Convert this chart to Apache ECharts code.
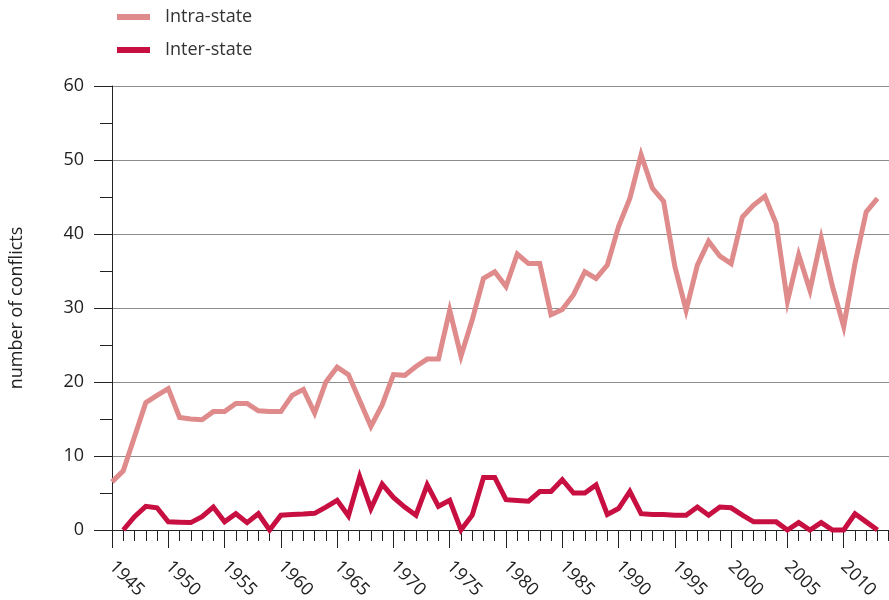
<!DOCTYPE html>
<html>
<head>
<meta charset="utf-8">
<script src="https://cdn.jsdelivr.net/npm/echarts@6/dist/echarts.min.js"></script>
<style>
html,body{margin:0;padding:0;background:#fff;}
#chart{width:889px;height:600px;}
</style>
</head>
<body>
<div id="chart"></div>
<script>
const years = [1945,1946,1947,1948,1949,1950,1951,1952,1953,1954,1955,1956,1957,1958,1959,1960,1961,1962,1963,1964,1965,1966,1967,1968,1969,1970,1971,1972,1973,1974,1975,1976,1977,1978,1979,1980,1981,1982,1983,1984,1985,1986,1987,1988,1989,1990,1991,1992,1993,1994,1995,1996,1997,1998,1999,2000,2001,2002,2003,2004,2005,2006,2007,2008,2009,2010,2011,2012,2013];
const intraState = [6.5,8,12.6,17.2,18.2,19.1,15.2,15.0,14.9,16.0,16.0,17.1,17.1,16.1,16.0,16.0,18.2,19.0,15.8,20,22,21,17.5,14,16.9,21,20.9,22.1,23.1,23.1,29.7,23.5,28.4,34,34.9,32.9,37.3,36,36,29.1,29.8,31.8,34.9,34,35.8,41,44.8,50.7,46.2,44.4,35.6,29.7,35.8,39,37,36,42.3,43.9,45.1,41.4,30.9,37.2,32.4,39.4,32.9,27.5,36,43,44.8];
const interState = [null,0,1.8,3.2,3.0,1.1,1.05,1.0,1.8,3.1,1.1,2.2,1.0,2.2,0,2,2.1,2.15,2.25,3.1,4,1.9,7.2,2.9,6.2,4.4,3.1,2,6.1,3.2,4,0,2,7.1,7.1,4.1,4.0,3.9,5.2,5.2,6.8,5.0,5.0,6.1,2.1,2.9,5.2,2.2,2.1,2.1,2.0,2.0,3.1,2.0,3.1,3.0,2.0,1.1,1.1,1.1,0,1.0,0,1.0,0,0,2.2,1.1,0];
const seriesNames = ['Intra-state','Inter-state'];
const yTicks = [0,10,20,30,40,50,60];

const font = '"Open Sans", sans-serif';
const chart = echarts.init(document.getElementById('chart'), null, {renderer:'canvas'});
const pair = arr => years.map((y,i) => [y, arr[i]]);
chart.setOption({
  animation:false,
  textStyle:{fontFamily:font},
  grid:{left:112, right:-11, top:86, bottom:70, containLabel:false, outerBoundsMode:'none'},
  legend:{
    left:112, top:2, orient:'vertical', itemGap:13,
    itemWidth:33, itemHeight:6,
    textStyle:{fontFamily:font, fontSize:18, color:'#333', padding:[0,0,0,10], lineHeight:20},
    data:[{name:seriesNames[0], icon:'rect'},{name:seriesNames[1], icon:'rect'}]
  },
  xAxis:{
    type:'value', min:1945, max:2015, interval:5,
    axisLine:{lineStyle:{color:'#222', width:1}},
    axisTick:{show:true, length:18, lineStyle:{color:'#222'}},
    minorTick:{show:true, splitNumber:5, length:11, lineStyle:{color:'#222'}},
    splitLine:{show:false},
    axisLabel:{rotate:-45, margin:34, fontSize:18, color:'#222', fontFamily:font,
      formatter: v => (v <= 2010 ? String(v) : '')}
  },
  yAxis:{
    type:'value', min:yTicks[0], max:yTicks[yTicks.length-1], interval:10,
    name:'number of conflicts', nameLocation:'middle', nameGap:86,
    nameTextStyle:{fontSize:18, color:'#222', fontFamily:font},
    axisLine:{show:true, lineStyle:{color:'#222', width:1}},
    axisTick:{show:true, length:18, lineStyle:{color:'#222'}},
    minorTick:{show:true, splitNumber:2, length:12, lineStyle:{color:'#222'}},
    splitLine:{show:true, lineStyle:{color:'#8c8c8c', width:1}},
    axisLabel:{margin:28, fontSize:18, color:'#222', fontFamily:font}
  },
  series:[
    {name:seriesNames[0], type:'line', data:pair(intraState), showSymbol:false, symbol:'none', clip:false,
     color:'#DF8A8B', lineStyle:{color:'#DF8A8B', width:5, join:'miter'}, z:3},
    {name:seriesNames[1], type:'line', data:pair(interState), showSymbol:false, symbol:'none', clip:false,
     color:'#C80F42', lineStyle:{color:'#C80F42', width:5, join:'miter'}, z:4}
  ]
});
</script>
</body>
</html>
